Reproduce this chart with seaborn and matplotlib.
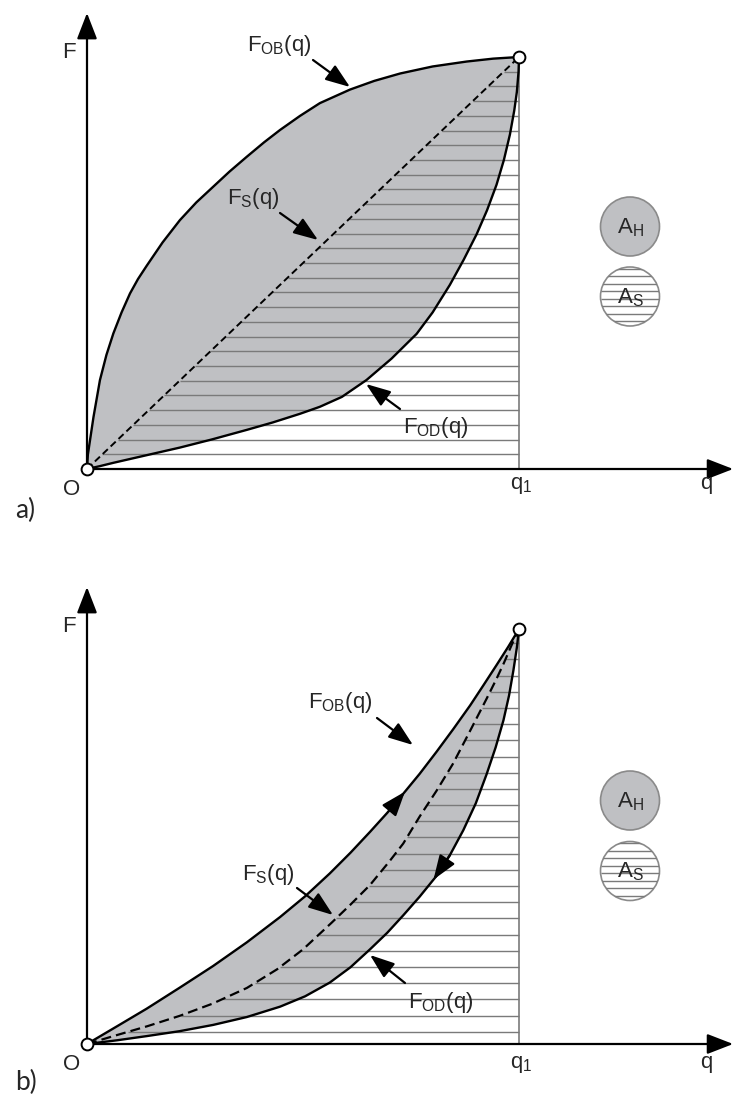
import numpy as np
import seaborn as sns
import matplotlib.pyplot as plt
from matplotlib.patches import Ellipse

sns.set_style('white')
plt.rcParams['font.family'] = ['Liberation Sans', 'DejaVu Sans']
plt.rcParams['mathtext.fontset'] = 'custom'
plt.rcParams['mathtext.rm'] = 'Liberation Sans'
plt.rcParams['mathtext.it'] = 'Liberation Sans'
plt.rcParams['mathtext.bf'] = 'Liberation Sans'

# q in units of q1, F in units of F(q1)

# a) loading curve F_OB, straight F_S, unloading F_OD
a_q_ob = [0, 0.002, 0.007, 0.015, 0.03, 0.045, 0.061, 0.08, 0.0995, 0.118, 0.138, 0.175, 0.215,
          0.253, 0.292, 0.33, 0.37, 0.41, 0.447, 0.493, 0.539, 0.575, 0.609, 0.665, 0.725, 0.8,
          0.879, 0.94, 1.0]
a_f_ob = [0, 0.035, 0.07, 0.126, 0.216, 0.277, 0.329, 0.38, 0.426, 0.461, 0.493, 0.55, 0.604,
          0.647, 0.685, 0.722, 0.758, 0.793, 0.823, 0.857, 0.888, 0.905, 0.921, 0.942, 0.960, 0.977,
          0.989, 0.996, 1.0]
a_q_s = [0, 1.0]
a_f_s = [0, 1.0]
a_q_od = [0, 0.03, 0.061, 0.14, 0.215, 0.29, 0.37, 0.43, 0.493, 0.539, 0.59, 0.647, 0.705, 0.763,
          0.8, 0.84, 0.872, 0.902, 0.926, 0.948, 0.965, 0.979, 0.989, 0.995, 0.999, 1.0]
a_f_od = [0, 0.007, 0.015, 0.034, 0.052, 0.072, 0.095, 0.113, 0.134, 0.151, 0.175, 0.216, 0.268,
          0.328, 0.38, 0.447, 0.508, 0.57, 0.628, 0.69, 0.75, 0.812, 0.87, 0.915, 0.965, 1.0]

# b) all three curves convex
b_q_ob = [0, 0.07, 0.138, 0.215, 0.292, 0.37, 0.447, 0.505, 0.562, 0.61, 0.655, 0.695, 0.732,
          0.77, 0.809, 0.848, 0.887, 0.918, 0.948, 0.975, 1.0]
b_f_ob = [0, 0.043, 0.085, 0.136, 0.188, 0.245, 0.306, 0.356, 0.411, 0.461, 0.511, 0.557, 0.603,
          0.651, 0.704, 0.759, 0.816, 0.865, 0.913, 0.957, 1.0]
b_q_s = [0, 0.061, 0.14, 0.215, 0.29, 0.37, 0.44, 0.5, 0.566, 0.61, 0.655, 0.7, 0.732, 0.77,
         0.809, 0.847, 0.887, 0.925, 0.948, 0.965, 0.979, 0.99, 1.0]
b_f_s = [0, 0.019, 0.043, 0.068, 0.097, 0.135, 0.18, 0.228, 0.292, 0.336, 0.383, 0.44, 0.483,
         0.548, 0.61, 0.675, 0.755, 0.832, 0.88, 0.918, 0.952, 0.978, 1.0]
b_q_od = [0, 0.07, 0.138, 0.215, 0.292, 0.37, 0.447, 0.505, 0.562, 0.61, 0.655, 0.695, 0.732,
          0.77, 0.809, 0.84, 0.871, 0.9, 0.925, 0.946, 0.964, 0.977, 0.987, 0.995, 1.0]
b_f_od = [0, 0.009, 0.019, 0.031, 0.046, 0.065, 0.09, 0.115, 0.148, 0.185, 0.228, 0.268, 0.31,
          0.355, 0.405, 0.455, 0.515, 0.58, 0.65, 0.715, 0.78, 0.84, 0.9, 0.955, 1.0]

FILL = '#bfc0c3'
HATCH = '#7a7a7a'
W, H = 734, 1095

fig = plt.figure(figsize=(W / 100, H / 100), dpi=100)


def panel(top, bottom, ox, oy, sx, sy):
    # axes over a horizontal strip of the figure; data origin at pixel (ox, oy)
    ax = fig.add_axes([0, 1 - bottom / H, 1, (bottom - top) / H])
    ax.set_xlim(-ox / sx, (W - ox) / sx)
    ax.set_ylim((oy - bottom) / sy, (oy - top) / sy)
    ax.axis('off')

    def p(x, y):
        return (x - ox) / sx, (oy - y) / sy
    return ax, p


def pointer(ax, tail, tip, hl=1.5, hw=0.55):
    ax.annotate('', xy=tip, xytext=tail, annotation_clip=False,
                arrowprops=dict(arrowstyle=f'-|>,head_length={hl},head_width={hw}',
                                mutation_scale=10, lw=1.6, color='black',
                                shrinkA=0, shrinkB=0))


def label(ax, xy, s, **kw):
    ax.text(xy[0], xy[1], s, fontsize=16, ha=kw.pop('ha', 'left'), va='baseline', **kw)


def draw(ax, p, q_ob, f_ob, q_s, f_s, q_od, f_od, levels, sx, sy, y_tip, hc, sc, dash, dlw):
    # A_H: area between loading and unloading curves
    ax.fill(np.concatenate([q_ob, q_od[::-1]]), np.concatenate([f_ob, f_od[::-1]]),
            color=FILL, lw=0, zorder=1)
    # A_S: hatched area under F_S
    x0 = np.interp(levels, f_s, q_s)
    ax.hlines(levels, x0, 1.0, color=HATCH, lw=1.0, zorder=2)
    ax.vlines(1.0, 0, 1.0, color=HATCH, lw=1.2, zorder=2)

    sns.lineplot(x=q_ob, y=f_ob, ax=ax, color='black', lw=1.7, sort=False, estimator=None, zorder=3)
    sns.lineplot(x=q_od, y=f_od, ax=ax, color='black', lw=1.7, sort=False, estimator=None, zorder=3)
    sns.lineplot(x=q_s, y=f_s, ax=ax, color='black', lw=dlw, linestyle=(0, dash),
                 sort=False, estimator=None, zorder=3)

    # axes with arrow heads
    x_tip = ax.get_xlim()[1] - 0.002
    pointer(ax, (0, 0), (x_tip, 0), hl=1.6, hw=0.62)
    pointer(ax, (0, 0), (0, y_tip), hl=1.6, hw=0.62)

    ax.plot([0, 1], [0, 1], 'o', ms=8.5, mfc='white', mec='black', mew=1.4,
            zorder=6, clip_on=False)

    # legend circles
    r = 29.5
    cx, cy = p(630, hc)
    ax.add_patch(Ellipse((cx, cy), 2 * r / sx, 2 * r / sy, fc=FILL, ec='#8a8a8a', lw=1.2, zorder=4))
    cx, cy = p(630, sc)
    circ = Ellipse((cx, cy), 2 * r / sx, 2 * r / sy, fc='white', ec='#8a8a8a', lw=1.2, zorder=4)
    ax.add_patch(circ)
    lv = cy + np.arange(-4, 5) * 7.5 / sy - 2.2 / sy
    hl = ax.hlines(lv, cx - r / sx, cx + r / sx, color=HATCH, lw=1.0, zorder=5)
    hl.set_clip_path(circ)

    label(ax, p(630, hc + 6.5), r'$\mathregular{A_H}$', ha='center', zorder=7)
    label(ax, p(630, sc + 6.5), r'$\mathregular{A_S}$', ha='center', zorder=7)


# ---------- a) ----------
ax_a, pa = panel(0, 547, 87, 469, 432, 412)
levels_a = np.arange(1, 28) / 28
draw(ax_a, pa, np.array(a_q_ob), np.array(a_f_ob), np.array(a_q_s), np.array(a_f_s),
     np.array(a_q_od), np.array(a_f_od), levels_a, 432, 412, (469 - 13) / 412, 226.5, 296.5,
     (3.6, 2.0), 1.4)

label(ax_a, pa(62, 58), 'F')
label(ax_a, pa(63, 495), 'O')
label(ax_a, pa(510, 489), r'$\mathregular{q_1}$')
label(ax_a, pa(700, 489), 'q')
label(ax_a, pa(247, 51), r'$\mathregular{F_{OB}(q)}$')
label(ax_a, pa(227, 204), r'$\mathregular{F_S(q)}$')
label(ax_a, pa(403, 433), r'$\mathregular{F_{OD}(q)}$')
pointer(ax_a, pa(313, 60), pa(350, 87))
pointer(ax_a, pa(280, 213), pa(318, 240))
pointer(ax_a, pa(400, 409), pa(366, 384))
ax_a.text(*pa(15, 518), 'a)', fontsize=19, family=['Lato', 'DejaVu Sans'], va='baseline')

# ---------- b) ----------
ax_b, pb = panel(547, 1095, 87, 1044, 432, 415)
levels_b = 0.0296 + 0.039 * np.arange(0, 25)
draw(ax_b, pb, np.array(b_q_ob), np.array(b_f_ob), np.array(b_q_s), np.array(b_f_s),
     np.array(b_q_od), np.array(b_f_od), levels_b, 432, 415, (1044 - 587) / 415, 800.5, 871,
     (4.5, 2.3), 1.6)

label(ax_b, pb(62, 632), 'F')
label(ax_b, pb(63, 1070), 'O')
label(ax_b, pb(510, 1068), r'$\mathregular{q_1}$')
label(ax_b, pb(700, 1068), 'q')
label(ax_b, pb(308, 708), r'$\mathregular{F_{OB}(q)}$')
label(ax_b, pb(242, 880), r'$\mathregular{F_S(q)}$')
label(ax_b, pb(408, 1008), r'$\mathregular{F_{OD}(q)}$')
pointer(ax_b, pb(377, 718), pb(413, 745))
pointer(ax_b, pb(297, 888), pb(333, 915))
pointer(ax_b, pb(405, 983), pb(370, 955))

# direction of travel on the loading / unloading curves
q_up = [0.70, 0.736]
pointer(ax_b, (q_up[0], np.interp(q_up[0], b_q_ob, b_f_ob)), (q_up[1], np.interp(q_up[1], b_q_ob, b_f_ob)))
q_dn = [0.84, 0.802]
pointer(ax_b, (q_dn[0], np.interp(q_dn[0], b_q_od, b_f_od)), (q_dn[1], np.interp(q_dn[1], b_q_od, b_f_od)))
ax_b.text(*pb(15, 1090), 'b)', fontsize=19, family=['Lato', 'DejaVu Sans'], va='baseline')

fig.savefig('out.png', dpi=100)
